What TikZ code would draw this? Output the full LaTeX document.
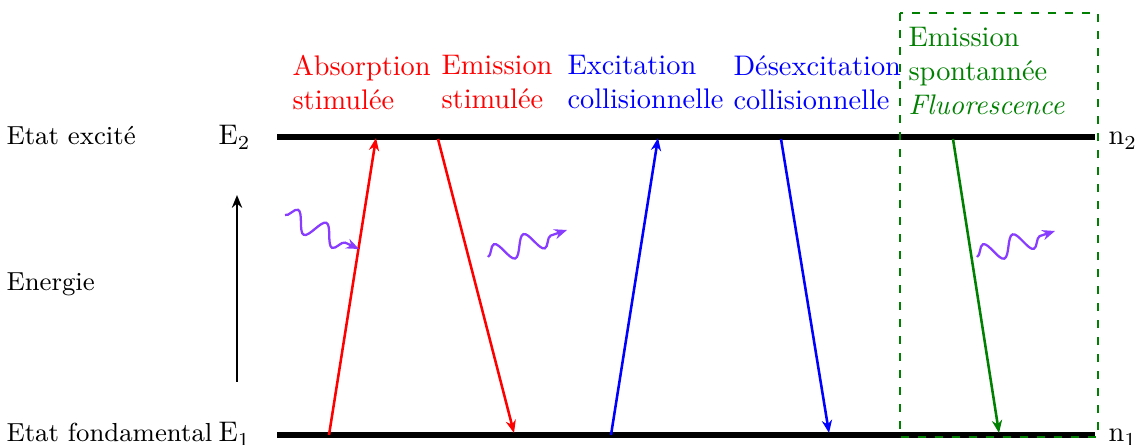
\documentclass[tikz,border=0pt]{standalone}
\usetikzlibrary{arrows.meta,positioning,decorations.pathmorphing}
\definecolor{violetph}{RGB}{135,60,255}
\definecolor{vert}{RGB}{0,128,0}

\begin{document}
\begin{tikzpicture}[x=0.0124cm,y=-0.0124cm,>={Stealth[length=4.5pt,width=3.6pt]},
  niveau/.style={line width=1.8pt},
  trans/.style={->,line width=0.9pt},
  etat/.style={anchor=base west,inner sep=0pt,font=\fontsize{9.2}{11}\selectfont},
  onde/.style={->,thick,violetph,decorate,decoration={snake,amplitude=3.6pt,segment length=11pt,post length=4pt}},
  lbl/.style={anchor=north west,align=left,inner sep=0pt}]
\useasboundingbox (0,0) rectangle (1136,445);
% niveaux
\coordinate (h1) at (277,137); \coordinate (h2) at (1095,137);
\coordinate (b1) at (277,435); \coordinate (b2) at (1095,435);
\draw[niveau] (h1)--(h2);
\draw[niveau] (b1)--(b2);
\node (exc) [etat] at (6,145) {Etat excité};
\node (fond) [etat] at (6,442) {Etat fondamental};
\node (E2) [anchor=base west,inner sep=0pt] at (218,145) {E$_2$};
\node (E1) [anchor=base west,inner sep=0pt] at (218,442) {E$_1$};
\node (n2) [anchor=base west,inner sep=0pt] at (1108,145) {n$_2$};
\node (n1) [anchor=base west,inner sep=0pt] at (1108,442) {n$_1$};
% energie
\node (en) [etat] at (6,291) {Energie};
\coordinate (e0) at (237,382); \coordinate (e1) at (237,195);
\draw[->,thick] (e0)--(e1);
% transitions
\coordinate (r0) at (329,435); \coordinate (r1) at (376,138);
\coordinate (s0) at (438,139); \coordinate (s1) at (514,433);
\coordinate (c0) at (611,435); \coordinate (c1) at (658,138);
\coordinate (d0) at (781,139); \coordinate (d1) at (829,433);
\coordinate (f0) at (953,139); \coordinate (f1) at (999,433);
\draw[trans,red] (r0)--(r1);
\draw[trans,red] (s0)--(s1);
\draw[trans,blue] (c0)--(c1);
\draw[trans,blue] (d0)--(d1);
\draw[trans,vert] (f0)--(f1);
% photons
\coordinate (p0) at (285,215); \coordinate (p1) at (359,249);
\coordinate (q0) at (488,257); \coordinate (q1) at (567,230);
\coordinate (t0) at (977,257); \coordinate (t1) at (1055,231);
\draw[onde] (p0)--(p1);
\draw[onde] (q0)--(q1);
\draw[onde] (t0)--(t1);
% etiquettes
\node (abs) [lbl,red] at (292,55) {Absorption\\stimulée};
\node (emi) [lbl,red] at (441,55) {Emission\\stimulée};
\node (col) [lbl,blue] at (567,55) {Excitation\\collisionnelle};
\node (des) [lbl,blue] at (733,55) {Désexcitation\\collisionnelle};
\node (spo) [lbl,vert] at (908,27) {Emission\\spontannée\\\textit{Fluorescence}};
\coordinate (k0) at (900,13); \coordinate (k1) at (1098,437);
\draw[vert,thick,dashed] (k0) rectangle (k1);
\end{tikzpicture}
\end{document}
